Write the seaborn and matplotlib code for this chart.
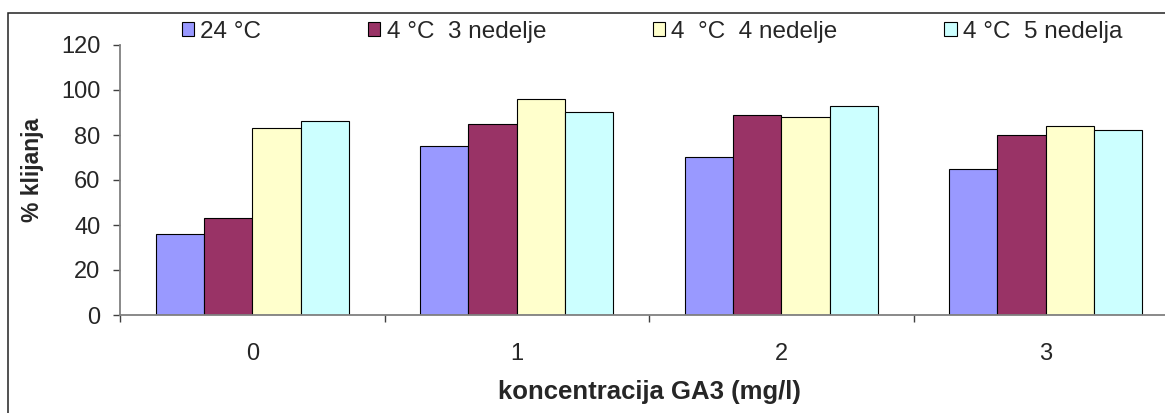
import numpy as np
import pandas as pd
import matplotlib
matplotlib.use('Agg')
import matplotlib.pyplot as plt
from matplotlib.patches import Rectangle
from matplotlib.ticker import FixedLocator
import seaborn as sns

# data
concentrations = ['0', '1', '2', '3']
treatments = ['24 °C', '4 °C  3 nedelje', '4  °C  4 nedelje', '4 °C  5 nedelja']
t24 = [36, 75, 70, 65]
w3 = [43, 85, 89, 80]
w4 = [83, 96, 88, 84]
w5 = [86, 90, 93, 82]
colors = ['#9999FF', '#993366', '#FFFFCC', '#CCFFFF']
yticks = [0, 20, 40, 60, 80, 100, 120]

rows = []
for name, vals in zip(treatments, [t24, w3, w4, w5]):
    for c, v in zip(concentrations, vals):
        rows.append({'konc': c, 'klijanje': v, 'tretman': name})
df = pd.DataFrame(rows)

sns.set_style('white')
plt.rcParams['font.family'] = ['Liberation Sans', 'DejaVu Sans']

W, H = 1165, 413
fig = plt.figure(figsize=(W / 100, H / 100), dpi=100)
# axes placed in pixel terms, right end runs off the picture like the original
ax = fig.add_axes([120 / W, (H - 315) / H, 1058 / W, 270 / H])

sns.barplot(data=df, x='konc', y='klijanje', hue='tretman', order=concentrations,
            hue_order=treatments, palette=colors, edgecolor='black', linewidth=0.8,
            width=0.73, saturation=1, ax=ax)

handles, labels = ax.get_legend_handles_labels()
ax.get_legend().remove()

ax.set_xlim(-0.5, 3.5)
ax.set_ylim(0, 120)
ax.set_yticks(yticks)

for s in ['top', 'right']:
    ax.spines[s].set_visible(False)
for s in ['left', 'bottom']:
    ax.spines[s].set_color('#808080')
    ax.spines[s].set_linewidth(1.3)

ax.tick_params(axis='y', direction='out', length=5, width=1, color='#404040',
               labelsize=17, pad=9, left=True)
ax.tick_params(axis='x', which='major', length=0, labelsize=17, pad=20)
ax.xaxis.set_minor_locator(FixedLocator([-0.5, 0.5, 1.5, 2.5]))
ax.tick_params(axis='x', which='minor', direction='out', length=5, width=1,
               color='#404040', bottom=True)

ax.set_xlabel('koncentracija GA3 (mg/l)', fontsize=18.5, fontweight='bold', va='center')
ax.xaxis.set_label_coords(0.5, (315 - 392) / 270)
ax.set_ylabel('% klijanja', fontsize=16.5, fontweight='bold', va='center')
ax.yaxis.set_label_coords((33 - 120) / 1058, (315 - 170) / 270)

leg = fig.legend(handles, labels, loc='center left', bbox_to_anchor=(170 / W, 1 - 32 / H),
                 ncol=4, frameon=False, fontsize=17.5, borderpad=0, handlelength=0.5,
                 handleheight=0.5, handletextpad=0.25, columnspacing=4.4)
for h in leg.legend_handles:
    h.set_edgecolor('black')
    h.set_linewidth(0.8)

# outer chart frame (right and bottom edges are cut off)
fig.patches.append(Rectangle((8 / W, -0.2), 1.5, 1.2 - 13 / H, transform=fig.transFigure,
                             fill=False, edgecolor='#222222', linewidth=1.1))

fig.savefig('out.png', dpi=100)
